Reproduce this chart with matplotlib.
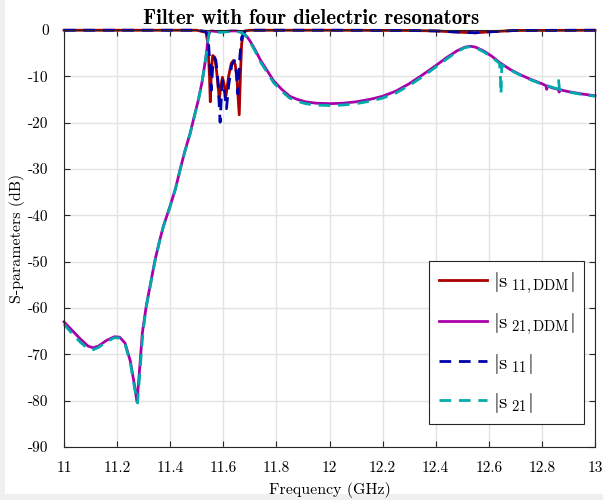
import matplotlib
matplotlib.use("Agg")
import matplotlib.pyplot as plt
from matplotlib.patches import Rectangle

plt.rcParams['font.family'] = 'serif'
plt.rcParams['font.serif'] = ['cmr10', 'DejaVu Serif']
plt.rcParams['mathtext.fontset'] = 'cm'
plt.rcParams['axes.unicode_minus'] = False
plt.rcParams['axes.formatter.use_mathtext'] = False

# |S21| from the DDM model (GHz, dB)
f_s21_ddm = [11.00, 11.03, 11.06, 11.09, 11.11, 11.13, 11.16, 11.19, 11.21, 11.23,
             11.25, 11.265, 11.275, 11.285, 11.295, 11.31, 11.325, 11.343, 11.36, 11.374,
             11.399, 11.42, 11.437, 11.455, 11.475, 11.49, 11.506, 11.52, 11.53, 11.537,
             11.542, 11.547, 11.555, 11.57, 11.59, 11.61, 11.63, 11.65, 11.665, 11.678,
             11.69, 11.70, 11.72, 11.74, 11.76, 11.79, 11.82, 11.85, 11.88, 11.91,
             11.95, 12.00, 12.05, 12.10, 12.15, 12.20, 12.25, 12.30, 12.35, 12.40,
             12.44, 12.48, 12.51, 12.53, 12.55, 12.58, 12.61, 12.64, 12.68, 12.72,
             12.76, 12.80, 12.815, 12.818, 12.822, 12.84, 12.862, 12.865, 12.868, 12.90,
             12.95, 13.00]
s21_ddm = [-63.0, -64.8, -66.6, -68.2, -68.6, -68.2, -67.0, -66.2, -66.3, -67.6,
           -71.5, -76.5, -80.3, -73.0, -65.4, -59.5, -55.0, -49.6, -45.5, -42.4,
           -38.1, -34.2, -30.2, -26.2, -22.3, -18.8, -15.1, -11.2, -7.5, -4.8,
           -2.0, -0.5, -0.2, -0.3, -0.4, -0.3, -0.2, -0.2, -0.4, -0.8,
           -1.5, -2.3, -4.3, -6.5, -8.3, -11.0, -12.8, -14.3, -15.0, -15.5,
           -15.8, -15.9, -15.8, -15.5, -15.0, -14.3, -13.2, -11.6, -9.7, -7.7,
           -6.0, -4.5, -3.7, -3.5, -3.7, -4.5, -5.6, -7.0, -8.5, -9.7,
           -10.7, -11.6, -12.0, -12.8, -12.1, -12.5, -12.8, -13.4, -12.9, -13.3,
           -13.8, -14.2]

# |S21| measured
f_s21 = [11.00, 11.03, 11.06, 11.09, 11.11, 11.13, 11.16, 11.19, 11.21, 11.23,
         11.25, 11.265, 11.277, 11.287, 11.297, 11.31, 11.325, 11.343, 11.36, 11.374,
         11.399, 11.42, 11.437, 11.455, 11.475, 11.49, 11.506, 11.52, 11.53, 11.537,
         11.542, 11.547, 11.555, 11.57, 11.59, 11.61, 11.63, 11.65, 11.665, 11.678,
         11.69, 11.70, 11.72, 11.74, 11.76, 11.79, 11.82, 11.85, 11.88, 11.91,
         11.95, 12.00, 12.05, 12.10, 12.15, 12.20, 12.25, 12.30, 12.35, 12.40,
         12.44, 12.48, 12.51, 12.53, 12.55, 12.58, 12.61, 12.64, 12.643, 12.646,
         12.649, 12.68, 12.72, 12.76, 12.80, 12.84, 12.86, 12.863, 12.866, 12.90,
         12.95, 13.00]
s21 = [-63.5, -65.5, -67.3, -68.8, -69.0, -68.5, -67.3, -66.4, -66.5, -67.8,
       -71.8, -77.0, -80.5, -73.0, -65.4, -59.7, -55.2, -49.8, -45.6, -42.5,
       -38.2, -34.3, -30.3, -26.3, -22.4, -18.9, -15.2, -11.3, -7.6, -4.9,
       -2.1, -0.6, -0.3, -0.4, -0.5, -0.4, -0.3, -0.3, -0.5, -0.9,
       -1.6, -2.5, -4.6, -6.9, -8.7, -11.4, -13.2, -14.7, -15.4, -15.9,
       -16.2, -16.3, -16.2, -15.9, -15.4, -14.7, -13.6, -12.0, -10.1, -8.0,
       -6.3, -4.7, -3.8, -3.6, -3.8, -4.7, -5.8, -7.2, -9.0, -13.8,
       -7.5, -8.6, -9.8, -10.8, -11.7, -12.4, -12.7, -10.9, -12.8, -13.4,
       -13.9, -14.3]

# |S11| from the DDM model
f_s11_ddm = [11.00, 11.30, 11.50, 11.535, 11.542, 11.548, 11.551, 11.555, 11.560, 11.568,
             11.575, 11.585, 11.591, 11.597, 11.604, 11.610, 11.620, 11.630, 11.638, 11.645,
             11.652, 11.660, 11.665, 11.669, 11.675, 11.682, 11.70, 12.00, 12.30, 12.40,
             12.50, 12.55, 12.60, 12.70, 13.00]
s11_ddm = [-0.05, -0.05, -0.05, -0.5, -3.0, -10.0, -15.5, -9.0, -5.5, -5.9,
           -9.0, -14.9, -12.0, -10.2, -12.0, -14.2, -10.0, -7.2, -6.6, -7.5,
           -11.0, -18.3, -9.0, -3.0, -1.0, -0.2, -0.05, -0.05, -0.1, -0.2,
           -0.5, -0.6, -0.4, -0.1, -0.05]

# |S11| measured
f_s11 = [11.00, 11.30, 11.50, 11.535, 11.543, 11.550, 11.555, 11.560, 11.566, 11.572,
         11.580, 11.588, 11.593, 11.597, 11.604, 11.612, 11.620, 11.632, 11.642, 11.649,
         11.655, 11.662, 11.669, 11.680, 11.70, 12.00, 12.30, 12.40, 12.50, 12.55,
         12.60, 12.70, 13.00]
s11 = [-0.05, -0.05, -0.05, -0.3, -1.5, -8.0, -13.0, -8.0, -6.0, -6.5,
       -11.0, -19.9, -14.0, -10.9, -13.0, -17.0, -12.0, -7.5, -6.6, -9.0,
       -13.8, -6.0, -1.6, -0.3, -0.05, -0.05, -0.1, -0.2, -0.5, -0.6,
       -0.4, -0.1, -0.05]

x_ticks = [11, 11.2, 11.4, 11.6, 11.8, 12, 12.2, 12.4, 12.6, 12.8, 13]
x_labels = ['11', '11.2', '11.4', '11.6', '11.8', '12', '12.2', '12.4', '12.6', '12.8', '13']
y_ticks = [0, -10, -20, -30, -40, -50, -60, -70, -80, -90]

fig = plt.figure(figsize=(6.03, 5.0), dpi=100)
fig.patch.set_facecolor('#f0f0f0')
fig.patches.append(Rectangle((5 / 603, 6 / 500), 1, 1, transform=fig.transFigure,
                             facecolor='white', edgecolor='none', zorder=-10))
ax = fig.add_axes([64 / 603, 53 / 500, 531 / 603, 417 / 500])

lw = 2.0
dash = (4.2, 2.8)
ax.plot(f_s11_ddm, s11_ddm, '-', color='#aa0000', lw=lw, clip_on=False,
        label=r'$|\mathrm{s}_{\;\mathrm{11,DDM}}|$')
ax.plot(f_s21_ddm, s21_ddm, '-', color='#aa00aa', lw=lw, clip_on=False,
        label=r'$|\mathrm{s}_{\;\mathrm{21,DDM}}|$')
ax.plot(f_s11, s11, '--', color='#0000aa', lw=lw, clip_on=False, dashes=dash,
        label=r'$|\mathrm{s}_{\;\mathrm{11}}|$')
ax.plot(f_s21, s21, '--', color='#00aaaa', lw=lw, clip_on=False, dashes=dash,
        label=r'$|\mathrm{s}_{\;\mathrm{21}}|$')

ax.set_xlim(11, 13)
ax.set_ylim(-90, 0)
ax.set_xticks(x_ticks)
ax.set_xticklabels(x_labels)
ax.set_yticks(y_ticks)
ax.grid(True, color='#e3e3e3', lw=1.0)
ax.set_axisbelow(True)
ax.tick_params(direction='in', top=True, right=True, length=4, width=0.8,
               color='#262626', labelsize=11)
ax.tick_params(axis='x', pad=10)
ax.tick_params(axis='y', pad=11)
for s in ax.spines.values():
    s.set_color('#262626')
    s.set_linewidth(0.8)

ax.set_xlabel('Frequency (GHz)', fontsize=11.5, labelpad=5)
ax.set_ylabel('S-parameters (dB)', fontsize=11.5, labelpad=2)
ax.set_title('Filter with four dielectric resonators', fontsize=15,
             fontfamily='cmb10', pad=4, x=0.466)

leg = ax.legend(loc='lower right', bbox_to_anchor=(0.9795, 0.055), fontsize=15,
                fancybox=False, framealpha=1, edgecolor='#262626',
                handlelength=2.3, labelspacing=0.72, borderaxespad=0.0,
                handletextpad=0.3, borderpad=0.45)
leg.get_frame().set_linewidth(0.8)

fig.savefig('out.png', dpi=100, facecolor=fig.get_facecolor())
